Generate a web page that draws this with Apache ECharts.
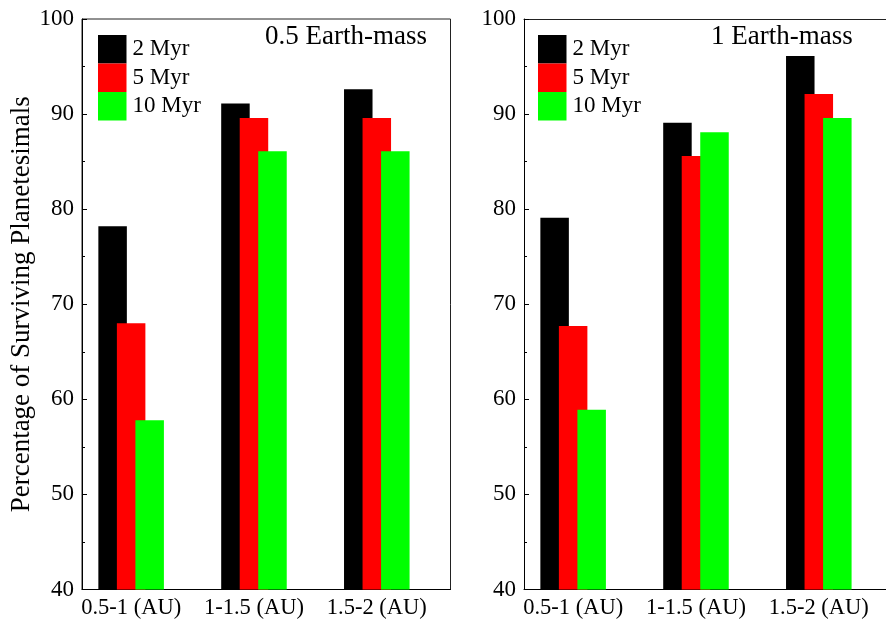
<!DOCTYPE html>
<html><head><meta charset="utf-8">
<script src="https://cdn.jsdelivr.net/npm/echarts@6/dist/echarts.min.js"></script>
<style>html,body{margin:0;padding:0;background:#fff}#c{width:886px;height:622px}</style>
</head><body><div id="c"></div>
<script>
const categories = ['0.5-1 (AU)', '1-1.5 (AU)', '1.5-2 (AU)'];
const categoryX = [1, 2, 3];
const seriesNames = ['2 Myr', '5 Myr', '10 Myr'];
const panelTitles = ['0.5 Earth-mass', '1 Earth-mass'];
const yTicks = [40, 50, 60, 70, 80, 90, 100];
const half_2Myr = [78.2, 91.1, 92.6];
const half_5Myr = [68.0, 89.6, 89.6];
const half_10Myr = [57.8, 86.1, 86.1];
const one_2Myr = [79.1, 89.1, 96.1];
const one_5Myr = [67.7, 85.6, 92.1];
const one_10Myr = [58.9, 88.1, 89.6];
const colors = ['#000000', '#ff0000', '#00ff00'];

const FONT = '"Liberation Serif", "Times New Roman", serif';
const panels = [[half_2Myr, half_5Myr, half_10Myr], [one_2Myr, one_5Myr, one_10Myr]];
const gridLefts = [82, 524];
const gridWidths = [368.5, 362];
const xMax = [3.6, 3.547];

const chart = echarts.init(document.getElementById('c'), null, {renderer: 'canvas'});

const grids = gridLefts.map((l, i) => ({left: l, top: 19, width: gridWidths[i], height: 570.5,
  show: i === 0, borderColor: '#222', borderWidth: 1, backgroundColor: 'transparent'}));

const xAxes = [];
gridLefts.forEach((l, i) => {
  xAxes.push({
    type: 'value', gridIndex: i, min: 0.6, max: xMax[i],
    axisLine: {show: true, lineStyle: {color: '#000', width: 1}},
    axisTick: {show: true, inside: true, length: 5, customValues: categoryX, lineStyle: {color: '#000'}},
    axisLabel: {customValues: categoryX, margin: 7, fontFamily: FONT, fontSize: 22.5, color: '#000',
      formatter: v => categories[categoryX.indexOf(Math.round(v))] || ''},
    splitLine: {show: false}
  });
});
// top frame line for the right panel (its right edge is cut off by the image border)
xAxes.push({
  type: 'value', gridIndex: 1, position: 'top', min: 0.6, max: xMax[1],
  axisLine: {show: true, lineStyle: {color: '#222', width: 1}},
  axisTick: {show: false}, axisLabel: {show: false}, splitLine: {show: false}
});

const yAxes = gridLefts.map((l, i) => ({
  type: 'value', gridIndex: i, min: yTicks[0], max: yTicks[yTicks.length - 1], interval: 10,
  name: i === 0 ? 'Percentage of Surviving Planetesimals' : '',
  nameLocation: 'middle', nameGap: 46,
  nameTextStyle: {fontFamily: FONT, fontSize: 27, color: '#000'},
  axisLine: {show: true, lineStyle: {color: '#000', width: 1}},
  axisTick: {show: true, inside: true, length: 5, lineStyle: {color: '#000'}},
  minorTick: {show: true, splitNumber: 2, length: 3, lineStyle: {color: '#000'}},
  axisLabel: {margin: 8, fontFamily: FONT, fontSize: 23, color: '#000'},
  splitLine: {show: false}
}));

const series = [];
panels.forEach((vals, p) => {
  vals.forEach((arr, s) => {
    series.push({
      type: 'bar', name: seriesNames[s], xAxisIndex: p, yAxisIndex: p,
      data: arr.map((v, k) => [categoryX[k], v]),
      barWidth: 28.5, barGap: '-35%',
      itemStyle: {color: colors[s]},
      emphasis: {disabled: true},
      animation: false
    });
  });
});

const legends = [98, 538].map(l => ({
  left: l, top: 35, padding: 0, orient: 'vertical', itemWidth: 28.5, itemHeight: 28.5, itemGap: 0,
  icon: 'rect', data: seriesNames,
  textStyle: {fontFamily: FONT, fontSize: 23, color: '#000', padding: [0, 0, 0, 1]},
  selectedMode: false
}));

const titles = [
  {text: panelTitles[0], left: 265, top: 23, padding: 0, textStyle: {fontFamily: FONT, fontSize: 27, fontWeight: 'normal', color: '#000'}},
  {text: panelTitles[1], left: 711, top: 23, padding: 0, textStyle: {fontFamily: FONT, fontSize: 27, fontWeight: 'normal', color: '#000'}}
];

chart.setOption({
  animation: false,
  title: titles,
  legend: legends,
  grid: grids,
  xAxis: xAxes,
  yAxis: yAxes,
  series: series
});
</script></body></html>
